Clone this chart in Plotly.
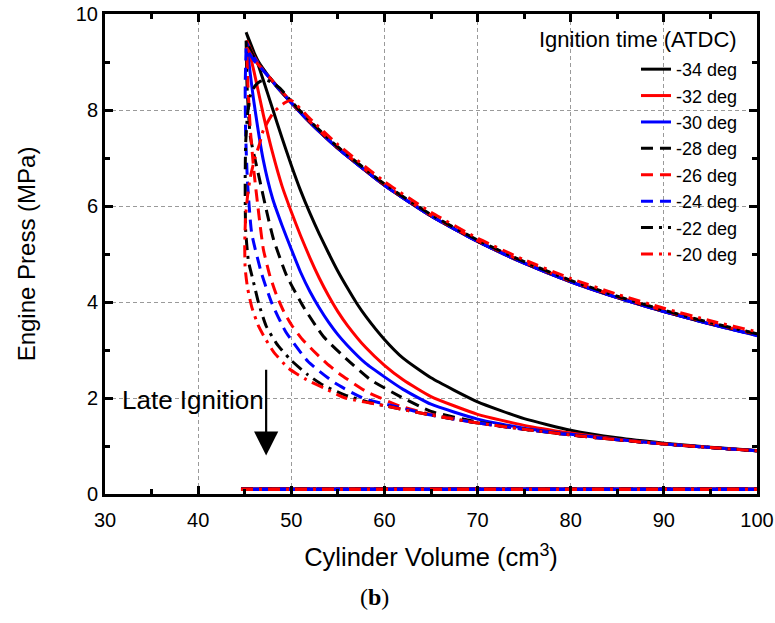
import plotly.graph_objects as go

# ---------------- data ----------------
labels = ["-34 deg", "-32 deg", "-30 deg", "-28 deg", "-26 deg", "-24 deg", "-22 deg", "-20 deg"]
colors = ["black", "red", "blue", "black", "red", "blue", "black", "red"]
dashes = ["solid", "solid", "solid", "12px,7px", "12px,7px", "12px,7px",
          "12px,6px,3px,6px", "12px,6px,3px,6px"]

# compression branches (volume cm3, pressure MPa)
comp_v_34 = [102, 95, 90, 85, 80, 75, 70, 65, 62, 60, 58, 57, 56, 55, 54, 53, 52, 51, 50, 49, 48, 47, 46, 45.15]
comp_p_34 = [0.875, 0.975, 1.06, 1.17, 1.33, 1.57, 1.92, 2.42, 2.83, 3.22, 3.7, 3.98, 4.3, 4.64, 5.02, 5.42, 5.85, 6.32, 6.85, 7.42, 8.02, 8.62, 9.2, 9.62]
comp_v_32 = [102, 95, 90, 85, 80, 75, 70, 65, 62, 60, 58, 56, 55, 54, 53, 52, 51, 50, 49, 48, 47, 46, 45.2]
comp_p_32 = [0.875, 0.967, 1.045, 1.14, 1.27, 1.43, 1.66, 2.03, 2.38, 2.68, 3.05, 3.52, 3.8, 4.13, 4.5, 4.92, 5.38, 5.88, 6.42, 7.1, 7.9, 8.8, 9.45]
comp_v_30 = [102, 95, 90, 85, 80, 75, 70, 65, 62, 60, 58, 56, 55, 54, 53, 52, 51, 50, 49, 48, 47, 46, 45.6, 45.2]
comp_p_30 = [0.875, 0.967, 1.043, 1.135, 1.245, 1.37, 1.56, 1.87, 2.18, 2.44, 2.72, 3.1, 3.32, 3.58, 3.88, 4.22, 4.62, 5.1, 5.6, 6.15, 6.95, 8.15, 8.75, 9.4]
comp_v_28 = [102, 95, 90, 85, 80, 75, 70, 65, 61.7, 58.5, 56, 53.45, 51.3, 49.5, 48.1, 47.4, 46.6, 45.6, 45.25, 45.15]
comp_p_28 = [0.875, 0.967, 1.043, 1.13, 1.23, 1.35, 1.5, 1.72, 2.03, 2.38, 2.8, 3.28, 3.9, 4.55, 5.3, 5.85, 6.55, 7.45, 8.5, 9.45]
comp_v_26 = [102, 95, 90, 85, 80, 75, 70, 65, 61.7, 58.1, 55.2, 53.8, 52.4, 51.2, 50.1, 49.2, 48.4, 47.7, 47.0, 46.5, 46.0, 45.6, 45.35, 45.2]
comp_p_26 = [0.875, 0.967, 1.043, 1.13, 1.23, 1.35, 1.48, 1.66, 1.83, 2.13, 2.5, 2.72, 2.98, 3.22, 3.5, 3.8, 4.15, 4.55, 5.1, 5.85, 6.7, 7.6, 8.5, 9.3]
comp_v_24 = [102, 95, 90, 85, 80, 75, 70, 65, 61.3, 57.9, 54.7, 51.8, 49.4, 47.9, 46.8, 45.75, 45.3, 45.1, 45.05, 45.15]
comp_p_24 = [0.875, 0.967, 1.043, 1.13, 1.23, 1.35, 1.48, 1.645, 1.82, 1.98, 2.31, 2.76, 3.38, 3.98, 4.6, 5.43, 6.5, 7.5, 8.5, 9.3]
comp_v_22 = [102, 95, 90, 85, 80, 75, 70, 65, 60, 58.5, 55.8, 53.4, 51.8, 49.9, 48.4, 47.3, 46.5, 45.9, 45.4, 45.1]
comp_p_22 = [0.875, 0.967, 1.043, 1.13, 1.23, 1.35, 1.48, 1.645, 1.84, 1.9, 2.06, 2.27, 2.48, 2.8, 3.14, 3.5, 3.97, 4.45, 4.85, 5.5]
comp_v_20 = [102, 95, 90, 85, 80, 75, 70, 65, 60, 55.8, 53.6, 51.65, 49.7, 48.1, 47.2, 46.5, 45.75, 45.3, 45.05]
comp_p_20 = [0.875, 0.967, 1.043, 1.13, 1.23, 1.35, 1.48, 1.645, 1.84, 2.0, 2.2, 2.38, 2.62, 2.96, 3.24, 3.49, 3.9, 4.3, 4.7]

# expansion branches
exp_v_34 = [45.15, 45.6, 46.5, 47.5, 48.5, 50, 52, 55, 60, 65, 70, 75, 80, 85, 90, 95, 100, 102]
exp_p_34 = [9.62, 9.38, 9.0, 8.72, 8.47, 8.15, 7.74, 7.2, 6.43, 5.79, 5.26, 4.81, 4.42, 4.09, 3.80, 3.54, 3.31, 3.22]
exp_v_32 = [45.2, 46, 47, 48.5, 50, 52, 55, 60, 65, 70, 75, 80, 85, 90, 95, 100, 102]
exp_p_32 = [9.45, 9.12, 8.83, 8.48, 8.15, 7.74, 7.2, 6.43, 5.79, 5.26, 4.81, 4.42, 4.09, 3.80, 3.54, 3.31, 3.22]
exp_v_30 = [45.2, 46, 47, 48.5, 50, 52, 55, 60, 65, 70, 75, 80, 85, 90, 95, 100, 102]
exp_p_30 = [9.4, 9.1, 8.83, 8.48, 8.15, 7.74, 7.2, 6.43, 5.79, 5.26, 4.81, 4.42, 4.09, 3.80, 3.54, 3.30, 3.21]
exp_v_28 = [45.15, 46, 47, 48.5, 50, 52, 55, 60, 65, 70, 75, 80, 85, 90, 95, 100, 102]
exp_p_28 = [9.45, 9.1, 8.84, 8.49, 8.16, 7.75, 7.21, 6.44, 5.8, 5.27, 4.82, 4.43, 4.1, 3.81, 3.55, 3.32, 3.23]
exp_v_26 = [45.2, 46, 47, 48.5, 50, 52, 55, 60, 65, 70, 75, 80, 85, 90, 95, 100, 102]
exp_p_26 = [9.3, 9.05, 8.83, 8.49, 8.17, 7.76, 7.22, 6.45, 5.81, 5.28, 4.83, 4.44, 4.11, 3.82, 3.56, 3.33, 3.24]
exp_v_24 = [45.15, 46, 47, 48.5, 50, 52, 55, 60, 65, 70, 75, 80, 85, 90, 95, 100, 102]
exp_p_24 = [9.3, 9.03, 8.82, 8.48, 8.15, 7.74, 7.2, 6.43, 5.79, 5.26, 4.81, 4.42, 4.09, 3.80, 3.54, 3.30, 3.21]
exp_v_22 = [45.05, 45.1, 45.3, 45.6, 46.1, 46.7, 47.4, 48.8, 50, 52, 55, 60, 65, 70, 75, 80, 85, 90, 95, 100, 102]
exp_p_22 = [6.5, 7.3, 7.9, 8.3, 8.5, 8.6, 8.62, 8.45, 8.18, 7.77, 7.23, 6.46, 5.82, 5.29, 4.84, 4.45, 4.12, 3.83, 3.57, 3.34, 3.25]
exp_v_20 = [45.0, 45.1, 45.3, 45.6, 46.1, 46.6, 47.0, 48.1, 49.3, 50, 52, 55, 60, 65, 70, 75, 80, 85, 90, 95, 100, 102]
exp_p_20 = [5.2, 5.8, 6.2, 6.6, 7.0, 7.3, 7.58, 7.95, 8.15, 8.2, 7.82, 7.28, 6.51, 5.87, 5.33, 4.88, 4.49, 4.16, 3.87, 3.61, 3.38, 3.29]

# gas exchange (exhaust / intake) near atmospheric pressure
gas_v = [44.6, 102]
gas_p = [0.1, 0.1]

comp_v = [comp_v_34, comp_v_32, comp_v_30, comp_v_28, comp_v_26, comp_v_24, comp_v_22, comp_v_20]
comp_p = [comp_p_34, comp_p_32, comp_p_30, comp_p_28, comp_p_26, comp_p_24, comp_p_22, comp_p_20]
exp_v = [exp_v_34, exp_v_32, exp_v_30, exp_v_28, exp_v_26, exp_v_24, exp_v_22, exp_v_20]
exp_p = [exp_p_34, exp_p_32, exp_p_30, exp_p_28, exp_p_26, exp_p_24, exp_p_22, exp_p_20]

# ---------------- figure ----------------
fig = go.Figure()
for i, name in enumerate(labels):
    fig.add_trace(go.Scatter(
        x=comp_v[i] + exp_v[i], y=comp_p[i] + exp_p[i],
        mode="lines", name=name, legendgroup=name,
        line=dict(color=colors[i], width=3, dash=dashes[i], shape="spline", smoothing=0.5),
    ))
for i, name in enumerate(labels):
    fig.add_trace(go.Scatter(
        x=gas_v, y=gas_p, mode="lines", name=name, legendgroup=name, showlegend=False,
        line=dict(color=colors[i], width=3.5, dash=dashes[i]),
    ))

font_family = "Liberation Sans, Arial, sans-serif"
axis_common = dict(
    showline=True, linecolor="black", linewidth=3, mirror="allticks",
    ticks="inside", ticklen=8, tickwidth=2.5, tickcolor="black",
    showgrid=True, gridcolor="#9a9a9a", gridwidth=1, griddash="4px,3px",
    zeroline=False, automargin=False,
    tickfont=dict(size=20, color="black", family=font_family),
)
fig.update_xaxes(
    range=[30, 100], dtick=10, tick0=30, ticklabelstandoff=6,
    minor=dict(dtick=5, ticks="inside", ticklen=5, tickwidth=2.5, tickcolor="black", showgrid=False),
    title=dict(text="Cylinder Volume (cm<sup>3</sup>)", font=dict(size=25.5, color="black", family=font_family), standoff=19),
    **axis_common,
)
fig.update_yaxes(
    range=[0, 10], dtick=2, tick0=0,
    minor=dict(dtick=1, ticks="inside", ticklen=5, tickwidth=2.5, tickcolor="black", showgrid=False),
    title=dict(text="Engine Press (MPa)", font=dict(size=24, color="black", family=font_family), standoff=34),
    **axis_common,
)

fig.add_annotation(
    x=47.3, y=0.8, ax=47.3, ay=2.62, xref="x", yref="y", axref="x", ayref="y",
    text="", showarrow=True, arrowhead=2, arrowsize=2.2, arrowwidth=2.2, arrowcolor="black",
)
fig.add_annotation(
    x=31.6, y=1.96, xref="x", yref="y", text="Late Ignition", showarrow=False,
    xanchor="left", yanchor="middle", font=dict(size=26, color="black", family=font_family),
)
fig.add_annotation(
    x=0.972, y=0.946, xref="paper", yref="paper", text="Ignition time (ATDC)", showarrow=False,
    xanchor="right", yanchor="middle", font=dict(size=22, color="black", family=font_family),
)
fig.add_annotation(
    x=0.414, y=-0.2146, xref="paper", yref="paper", text="(<b>b</b>)", showarrow=False,
    xanchor="center", yanchor="middle",
    font=dict(size=24, color="black", family="Liberation Serif, Times New Roman, serif"),
)

fig.update_layout(
    width=775, height=623,
    margin=dict(l=105, r=18, t=14, b=129),
    plot_bgcolor="white", paper_bgcolor="white",
    font=dict(family=font_family, color="black"),
    legend=dict(
        x=0.9785, y=0.923, xanchor="right", yanchor="top",
        bgcolor="rgba(0,0,0,0)", borderwidth=0, tracegroupgap=0,
        font=dict(size=18, color="black", family=font_family),
    ),
    showlegend=True,
)

# remove the default 8 px page margin so the figure fills the window exactly
fig.write_html("out.html", config={"displayModeBar": False},
               post_script="document.body.style.margin='0px';")
